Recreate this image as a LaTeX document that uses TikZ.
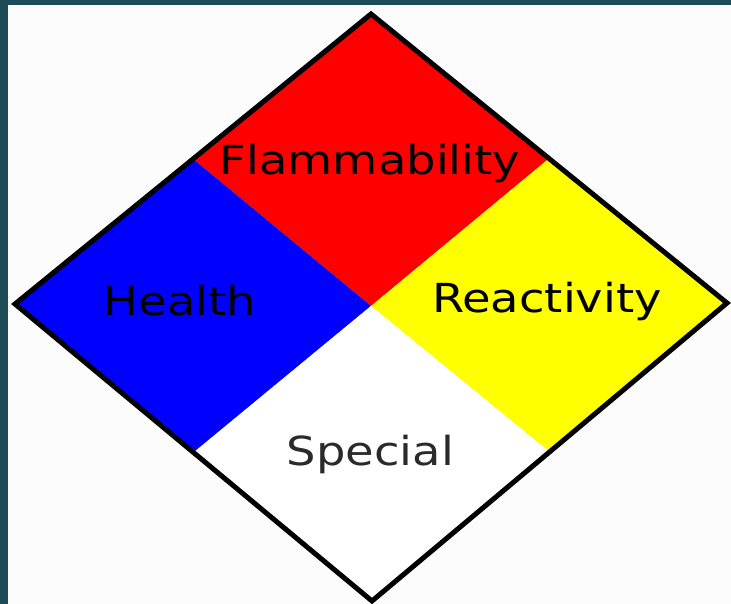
\documentclass[tikz,border=0pt]{standalone}
\usepackage{fontspec}
\setmainfont{DejaVu Sans}
\usetikzlibrary{calc}
\definecolor{frame}{HTML}{1B4C58}
\definecolor{txtgray}{HTML}{2A2A2A}
\definecolor{hazred}{HTML}{FF0000}
\definecolor{hazblue}{HTML}{0000FF}
\definecolor{hazyellow}{HTML}{FFFF00}
\newcommand{\widetext}[1]{\scalebox{1.16}[1]{#1}}
\tikzset{
  quad/.style={draw=none},
  lbl/.style={inner sep=0pt, anchor=base, font=\fontsize{40}{40}\selectfont},
}
\begin{document}
\begin{tikzpicture}[x=1pt,y=-1pt]
\useasboundingbox (0,0) rectangle (731,604);
\fill[frame] (0,0) rectangle (731,604);
\fill[white!99!black] (8,5) rectangle (731,604);
\coordinate (T) at (371,14);
\coordinate (L) at (15,304);
\coordinate (R) at (727,303);
\coordinate (B) at (372,601);
\coordinate (C) at (371,306);
\coordinate (TL) at ($(T)!0.5!(L)$);
\coordinate (TR) at ($(T)!0.5!(R)$);
\coordinate (BL) at ($(B)!0.5!(L)$);
\coordinate (BR) at ($(B)!0.5!(R)$);
\fill[quad, hazred] (T) -- (TR) -- (C) -- (TL) -- cycle;
\fill[quad, hazblue] (L) -- (TL) -- (C) -- (BL) -- cycle;
\fill[quad, hazyellow] (R) -- (TR) -- (C) -- (BR) -- cycle;
\fill[quad, white] (B) -- (BL) -- (C) -- (BR) -- cycle;
\draw[line width=5pt, line join=miter] (T) -- (R) -- (B) -- (L) -- cycle;
\node[lbl] (flam) at (370,175) {\widetext{Flammability}};
\node[lbl] (health) at (180,315) {\widetext{Health}};
\node[lbl] (react) at (547,312) {\widetext{Reactivity}};
\node[lbl, text=txtgray, fill=white, rounded corners=8pt, inner sep=6pt] (spec) at (370.5,465) {\widetext{Special}};
\end{tikzpicture}
\end{document}
